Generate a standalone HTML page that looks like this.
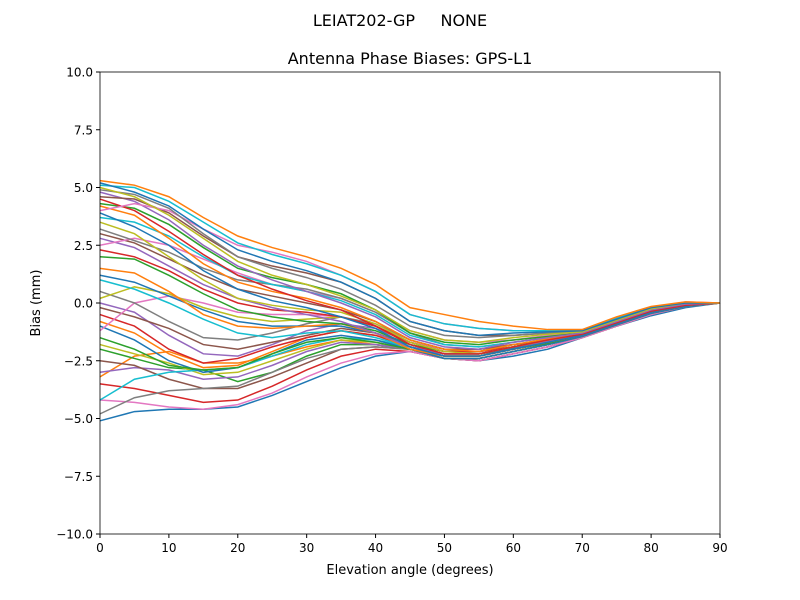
<!DOCTYPE html>
<html><head><meta charset="utf-8"><style>
body{margin:0;background:#fff;}
svg{display:block;font-family:"DejaVu Sans","Liberation Sans",sans-serif;}
</style></head><body>
<svg id="chart" width="800" height="600">
<rect width="800" height="600" fill="#fff"/>
<text x="400" y="26" text-anchor="middle" font-size="16" xml:space="preserve">LEIAT202-GP     NONE</text>
<text x="410" y="64" text-anchor="middle" font-size="16">Antenna Phase Biases: GPS-L1</text>
<g id="lines"></g>
<g id="axes"></g>
<text x="410" y="574" text-anchor="middle" font-size="13">Elevation angle (degrees)</text>
<text transform="translate(40,303) rotate(-90)" text-anchor="middle" font-size="13">Bias (mm)</text>
</svg>
<script>
const elevations=[0,5,10,15,20,25,30,35,40,45,50,55,60,65,70,75,80,85,90];
const xTicks=[0,10,20,30,40,50,60,70,80,90];
const yTicks=[-10,-7.5,-5,-2.5,0,2.5,5,7.5,10];
const colors=["#1f77b4","#ff7f0e","#2ca02c","#d62728","#9467bd","#8c564b","#e377c2","#7f7f7f","#bcbd22","#17becf"];
const s1=[5.3,5.1,4.6,3.7,2.9,2.4,2.0,1.5,0.8,-0.2,-0.5,-0.8,-1.0,-1.15,-1.15,-0.6,-0.15,0.05,0];
const s2=[5.2,4.8,4.2,3.2,2.3,1.8,1.4,0.9,0.2,-0.8,-1.2,-1.4,-1.3,-1.25,-1.2,-0.7,-0.2,0.0,0];
const s3=[5.0,4.6,3.8,2.8,1.8,1.2,0.8,0.3,-0.3,-1.2,-1.6,-1.7,-1.5,-1.35,-1.25,-0.75,-0.25,0.0,0];
const s4=[4.8,4.4,3.6,2.5,1.6,1.0,0.5,0.0,-0.6,-1.5,-1.9,-2.0,-1.7,-1.5,-1.3,-0.8,-0.3,-0.05,0];
const s5=[4.5,4.0,3.1,2.1,1.2,0.6,0.1,-0.3,-1.0,-1.8,-2.2,-2.2,-1.9,-1.6,-1.35,-0.85,-0.35,-0.1,0];
const s6=[4.2,3.8,2.8,1.7,0.9,0.5,0.2,-0.2,-0.8,-1.6,-2.0,-2.1,-1.8,-1.55,-1.3,-0.8,-0.3,-0.05,0];
const s7=[3.9,3.3,2.5,1.4,0.6,0.1,-0.2,-0.6,-1.1,-1.9,-2.3,-2.3,-2.0,-1.7,-1.4,-0.9,-0.4,-0.1,0];
const s8=[3.5,3.0,2.0,1.0,0.2,-0.1,-0.3,-0.4,-0.9,-1.7,-2.1,-2.2,-1.9,-1.6,-1.35,-0.85,-0.35,-0.1,0];
const s9=[3.2,2.7,2.2,1.5,1.0,0.8,0.6,0.2,-0.4,-1.3,-1.8,-1.9,-1.7,-1.5,-1.3,-0.8,-0.3,-0.05,0];
const s10=[2.8,2.4,1.6,0.8,0.2,-0.2,-0.5,-0.8,-1.3,-1.9,-2.2,-2.2,-1.9,-1.65,-1.35,-0.85,-0.35,-0.1,0];
const s11=[2.0,1.9,1.2,0.4,-0.3,-0.6,-0.8,-0.9,-1.2,-1.8,-2.1,-2.1,-1.8,-1.6,-1.3,-0.8,-0.3,-0.05,0];
const s12=[1.5,1.3,0.5,-0.5,-1.0,-1.1,-1.0,-0.9,-1.3,-2.0,-2.3,-2.3,-2.0,-1.7,-1.4,-0.9,-0.4,-0.1,0];
const s13=[1.0,0.6,0.0,-0.7,-1.3,-1.5,-1.3,-1.2,-1.5,-1.9,-2.2,-2.2,-1.9,-1.65,-1.35,-0.85,-0.35,-0.1,0];
const s14=[0.5,0.0,-0.8,-1.5,-1.6,-1.3,-0.9,-0.6,-0.9,-1.6,-2.0,-2.0,-1.8,-1.6,-1.3,-0.8,-0.3,-0.05,0];
const s15=[0.0,-0.4,-1.4,-2.2,-2.3,-1.8,-1.2,-0.9,-1.1,-1.7,-2.1,-2.1,-1.9,-1.65,-1.35,-0.85,-0.35,-0.1,0];
const s16=[-0.5,-1.0,-2.0,-2.6,-2.4,-1.9,-1.5,-1.2,-1.4,-1.9,-2.3,-2.3,-2.0,-1.7,-1.4,-0.9,-0.4,-0.1,0];
const s17=[-1.0,-1.6,-2.5,-3.0,-2.8,-2.2,-1.6,-1.4,-1.6,-2.0,-2.4,-2.4,-2.1,-1.8,-1.45,-0.95,-0.45,-0.15,0];
const s18=[-1.5,-2.0,-2.7,-2.9,-2.8,-2.2,-1.7,-1.5,-1.7,-2.0,-2.3,-2.3,-2.0,-1.75,-1.4,-0.9,-0.4,-0.1,0];
const s19=[-2.0,-2.4,-2.8,-2.9,-3.4,-3.0,-2.3,-1.8,-1.8,-2.0,-2.4,-2.4,-2.1,-1.8,-1.45,-0.95,-0.45,-0.15,0];
const s20=[-2.5,-2.7,-3.3,-3.7,-3.7,-3.2,-2.6,-2.0,-1.9,-2.0,-2.4,-2.5,-2.2,-1.9,-1.5,-1.0,-0.5,-0.15,0];
const s21=[-3.2,-2.3,-2.1,-2.6,-2.6,-2.3,-1.9,-1.6,-1.8,-2.0,-2.3,-2.3,-2.0,-1.7,-1.4,-0.9,-0.4,-0.1,0];
const s22=[-3.5,-3.7,-4.0,-4.3,-4.2,-3.6,-2.9,-2.3,-2.0,-2.1,-2.4,-2.5,-2.2,-1.9,-1.5,-1.0,-0.5,-0.15,0];
const s23=[-4.2,-3.3,-3.0,-2.9,-2.8,-2.3,-1.8,-1.5,-1.6,-1.9,-2.2,-2.2,-2.0,-1.7,-1.4,-0.9,-0.4,-0.1,0];
const s24=[-4.8,-4.1,-3.8,-3.7,-3.6,-3.0,-2.4,-2.0,-1.9,-2.0,-2.4,-2.4,-2.1,-1.8,-1.45,-0.95,-0.45,-0.15,0];
const s25=[-5.1,-4.7,-4.6,-4.6,-4.5,-4.0,-3.4,-2.8,-2.3,-2.1,-2.4,-2.5,-2.3,-2.0,-1.5,-1.0,-0.55,-0.2,0];
const s26=[-4.2,-4.3,-4.5,-4.6,-4.4,-3.9,-3.2,-2.6,-2.2,-2.1,-2.4,-2.5,-2.2,-1.9,-1.5,-1.0,-0.5,-0.15,0];
const s27=[4.0,4.3,4.0,3.2,2.5,2.2,1.8,1.2,0.5,-0.5,-0.9,-1.1,-1.2,-1.2,-1.2,-0.65,-0.2,0.05,0];
const s28=[2.5,2.8,2.5,1.9,1.3,0.8,0.5,0.2,-0.4,-1.2,-1.6,-1.7,-1.6,-1.4,-1.25,-0.75,-0.25,0.0,0];
const s29=[-1.2,0.0,0.3,0.0,-0.4,-0.5,-0.5,-0.6,-1.0,-1.7,-2.0,-2.0,-1.8,-1.6,-1.3,-0.8,-0.3,-0.05,0];
const s30=[0.2,0.7,0.4,-0.2,-0.6,-0.8,-0.7,-0.6,-1.0,-1.8,-2.1,-2.1,-1.9,-1.6,-1.35,-0.85,-0.35,-0.1,0];
const s31=[5.1,5.0,4.4,3.5,2.6,2.1,1.7,1.2,0.5,-0.5,-0.9,-1.1,-1.2,-1.2,-1.2,-0.65,-0.2,0.02,0];
const s32=[4.9,4.7,4.1,3.0,2.0,1.5,1.1,0.6,-0.1,-1.0,-1.4,-1.5,-1.4,-1.3,-1.2,-0.7,-0.25,0,0];
const s33=[4.6,4.5,3.9,2.9,2.0,1.6,1.3,0.9,0.2,-0.8,-1.2,-1.4,-1.4,-1.3,-1.2,-0.7,-0.2,0,0];
const s34=[4.3,4.1,3.4,2.4,1.5,1.1,0.8,0.4,-0.3,-1.3,-1.7,-1.8,-1.6,-1.45,-1.3,-0.8,-0.3,-0.05,0];
const s35=[3.7,3.5,2.9,2.0,1.2,0.8,0.5,0.1,-0.5,-1.4,-1.8,-1.9,-1.7,-1.5,-1.3,-0.8,-0.3,-0.05,0];
const s36=[3.0,2.6,1.9,1.2,0.6,0.3,0.0,-0.3,-0.8,-1.6,-2.0,-2.0,-1.8,-1.6,-1.35,-0.85,-0.35,-0.1,0];
const s37=[2.3,2.0,1.4,0.6,0.0,-0.3,-0.4,-0.6,-1.0,-1.7,-2.1,-2.1,-1.9,-1.6,-1.35,-0.85,-0.35,-0.1,0];
const s38=[1.2,0.9,0.3,-0.3,-0.8,-1.0,-1.0,-1.0,-1.3,-1.9,-2.2,-2.2,-1.95,-1.7,-1.4,-0.9,-0.4,-0.1,0];
const s39=[-0.2,-0.6,-1.1,-1.8,-2.0,-1.7,-1.4,-1.1,-1.3,-1.8,-2.2,-2.2,-2.0,-1.7,-1.4,-0.9,-0.4,-0.1,0];
const s40=[-0.8,-1.3,-2.2,-2.8,-2.7,-2.1,-1.5,-1.2,-1.4,-1.9,-2.3,-2.3,-2.0,-1.7,-1.4,-0.9,-0.4,-0.1,0];
const s41=[-1.8,-2.2,-2.6,-3.1,-3.0,-2.5,-2.0,-1.6,-1.7,-2.0,-2.4,-2.4,-2.1,-1.8,-1.45,-0.95,-0.45,-0.15,0];
const s42=[-3.0,-2.8,-2.9,-3.3,-3.2,-2.7,-2.1,-1.7,-1.8,-2.0,-2.4,-2.4,-2.1,-1.8,-1.45,-0.95,-0.45,-0.15,0];
const series=[s25,s21,s19,s22,s42,s20,s26,s24,s41,s23,s17,s40,s18,s16,s15,s39,s29,s14,s30,s13,s38,s12,s11,s37,s10,s36,s28,s9,s8,s35,s7,s6,s34,s5,s4,s33,s27,s32,s3,s31,s2,s1];

const L=100,R=720,T=72,B=534,xMin=0,xMax=90,yMin=-10,yMax=10;
function xs(v){return L+(v-xMin)/(xMax-xMin)*(R-L);}
function ys(v){return B-(v-yMin)/(yMax-yMin)*(B-T);}
const NS="http://www.w3.org/2000/svg";
const lines=document.getElementById('lines');
series.forEach((s,i)=>{
  const p=document.createElementNS(NS,'polyline');
  p.setAttribute('points',s.map((v,j)=>xs(elevations[j]).toFixed(2)+','+ys(v).toFixed(2)).join(' '));
  p.setAttribute('fill','none');
  p.setAttribute('stroke',colors[i%colors.length]);
  p.setAttribute('stroke-width','1.5');
  
  
  lines.appendChild(p);
});
const axes=document.getElementById('axes');
const frame=document.createElementNS(NS,'rect');
frame.setAttribute('x',L);frame.setAttribute('y',T);frame.setAttribute('width',R-L);frame.setAttribute('height',B-T);
frame.setAttribute('fill','none');frame.setAttribute('stroke','#000');frame.setAttribute('stroke-width','0.8');


axes.appendChild(frame);
xTicks.forEach(t=>{
  const x=xs(t);
  const l=document.createElementNS(NS,'line');
  l.setAttribute('x1',x);l.setAttribute('x2',x);l.setAttribute('y1',B);l.setAttribute('y2',B+4);l.setAttribute('stroke','#000');
  
  
  axes.appendChild(l);
  const tx=document.createElementNS(NS,'text');
  tx.setAttribute('x',x);tx.setAttribute('y',B+18);tx.setAttribute('text-anchor','middle');tx.setAttribute('font-size','12');
  tx.textContent=String(t);
  
  
  axes.appendChild(tx);
});
yTicks.forEach(t=>{
  const y=ys(t);
  const l=document.createElementNS(NS,'line');
  l.setAttribute('x1',L-4);l.setAttribute('x2',L);l.setAttribute('y1',y);l.setAttribute('y2',y);l.setAttribute('stroke','#000');
  
  
  axes.appendChild(l);
  const tx=document.createElementNS(NS,'text');
  tx.setAttribute('x',L-7);tx.setAttribute('y',y+4.5);tx.setAttribute('text-anchor','end');tx.setAttribute('font-size','12');
  tx.textContent=(t<0?'\u2212':'')+Math.abs(t).toFixed(1);
  
  
  axes.appendChild(tx);
});
</script>
</body></html>
